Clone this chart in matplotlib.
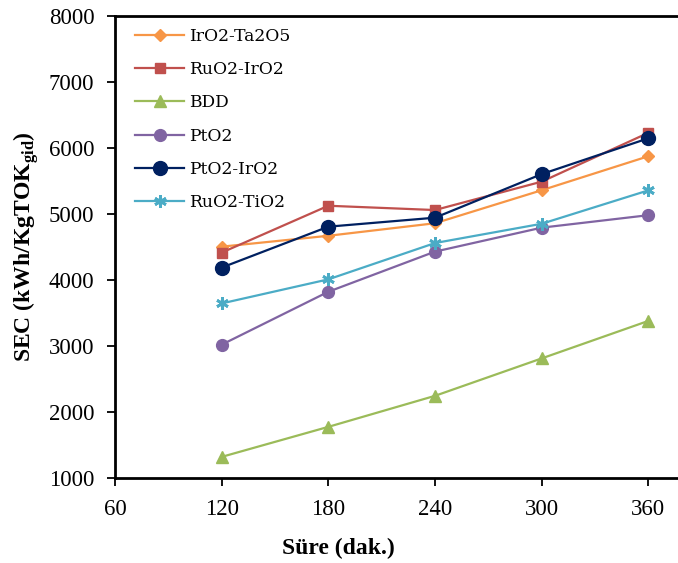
import matplotlib
matplotlib.use("Agg")
import matplotlib.pyplot as plt

times = [120, 180, 240, 300, 360]
series_names = ["IrO2-Ta2O5", "RuO2-IrO2", "BDD", "PtO2", "PtO2-IrO2", "RuO2-TiO2"]
iro2_ta2o5 = [4505, 4670, 4860, 5360, 5875]
ruo2_iro2 = [4415, 5125, 5060, 5490, 6230]
bdd = [1320, 1775, 2245, 2812, 3380]
pto2 = [3020, 3822, 4430, 4793, 4982]
pto2_iro2 = [4188, 4808, 4944, 5604, 6147]
ruo2_tio2 = [3645, 4010, 4560, 4852, 5358]
x_ticks = [60, 120, 180, 240, 300, 360]
y_ticks = [1000, 2000, 3000, 4000, 5000, 6000, 7000, 8000]

values = [iro2_ta2o5, ruo2_iro2, bdd, pto2, pto2_iro2, ruo2_tio2]
colors = ["#F79646", "#C0504D", "#9BBB59", "#8064A2", "#002060", "#4BACC6"]
markers = ["D", "s", "^", "o", "o", (6, 2, 0)]
msizes = [6.5, 7.5, 8.5, 8.5, 10, 9]

plt.rcParams['mathtext.fontset'] = 'custom'
plt.rcParams['mathtext.rm'] = 'Liberation Serif'
plt.rcParams['mathtext.bf'] = 'Liberation Serif:bold'

fig = plt.figure(figsize=(6.78, 5.63), dpi=100)
ax = fig.add_axes([115/678, 85/563, 640/678, 462/563])

for name, vals, c, m, ms in zip(series_names, values, colors, markers, msizes):
    kw = {}
    if m == (6, 2, 0):
        kw = dict(markeredgewidth=2.0)
    ax.plot(times, vals, color=c, marker=m, markersize=ms, linewidth=1.6,
            label=name, **kw)

ax.set_xlim(60, 420)
ax.set_ylim(1000, 8000)
ax.set_xticks(x_ticks)
ax.set_yticks(y_ticks)
for lab in ax.get_xticklabels() + ax.get_yticklabels():
    lab.set_fontfamily('Liberation Serif')
    lab.set_fontsize(16.5)
ax.tick_params(direction='out', length=5.8, width=1.3, colors='black', pad=9)
for s in ax.spines.values():
    s.set_linewidth(2)

ax.set_xlabel("Süre (dak.)", fontfamily='Liberation Serif', fontweight='bold',
              fontsize=17)
ax.xaxis.set_label_coords((338 - 115) / 640, -(548 - 478) / 462)
ax.set_ylabel(r"SEC (kWh/KgTOK$_{\mathbf{gid}}$)", fontfamily='Liberation Serif',
              fontweight='bold', fontsize=17)
ax.yaxis.set_label_coords(-(115 - 26) / 640, 0.5)
ax.xaxis.label.set_va('center')
ax.yaxis.label.set_va('center')

leg = ax.legend(loc='upper left', bbox_to_anchor=(128/678, 1 - 21/563),
                bbox_transform=fig.transFigure, frameon=False,
                prop={'family': 'DejaVu Serif', 'size': 12.3},
                handlelength=2.9, handletextpad=0.25, labelspacing=0.95,
                borderaxespad=0)

fig.savefig("out.png", dpi=100)
